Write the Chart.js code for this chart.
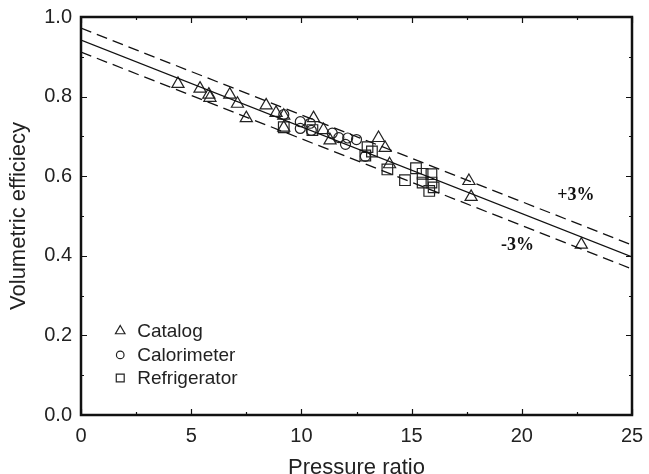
<!DOCTYPE html>
<html>
<head>
<meta charset="utf-8">
<script src="https://cdn.jsdelivr.net/npm/chart.js@4"></script>
<style>
html,body{margin:0;padding:0;background:#fff;}
#wrap{width:649px;height:474px;position:relative;}
</style>
</head>
<body>
<div id="wrap"><canvas id="c" width="649" height="474"></canvas></div>
<script>
// ---- data ----
const catalogX = [4.4, 5.4, 5.8, 5.85, 6.75, 7.1, 7.5, 8.4, 8.85, 9.2, 9.2, 10.55, 11.0, 11.3, 13.5, 13.8, 14.0, 17.6, 17.7, 22.7];
const catalogY = [0.832, 0.820, 0.805, 0.797, 0.805, 0.782, 0.746, 0.778, 0.759, 0.752, 0.722, 0.746, 0.716, 0.690, 0.696, 0.671, 0.630, 0.588, 0.548, 0.428];

const calorX = [9.2, 9.95, 9.95, 10.4, 10.45, 11.4, 11.7, 12.1, 12.5, 12.0, 12.9];
const calorY = [0.755, 0.737, 0.720, 0.733, 0.715, 0.708, 0.697, 0.696, 0.692, 0.680, 0.650];

const fridgeX = [9.2, 10.5, 13.0, 13.2, 12.9, 13.9, 14.7, 15.2, 15.5, 15.5, 15.9, 15.9, 16.0, 15.8];
const fridgeY = [0.723, 0.716, 0.673, 0.662, 0.652, 0.617, 0.590, 0.620, 0.606, 0.584, 0.605, 0.584, 0.572, 0.563];

const lineX = [0, 25];
const fitY = [0.942, 0.397];
const upperY = [0.972, 0.427];
const lowerY = [0.912, 0.367];

const xTicks = [0, 5, 10, 15, 20, 25];
const yTicks = [0.0, 0.2, 0.4, 0.6, 0.8, 1.0];
const seriesLabels = ['Catalog', 'Calorimeter', 'Refrigerator'];
const bandLabels = ['+3%', '-3%'];

const pts = (xs, ys) => xs.map((x, i) => ({x: x, y: ys[i]}));
const ink = '#222';
const sans = '"Liberation Sans", Arial, Helvetica, sans-serif';

const frameAndTicks = {
  id: 'frameAndTicks',
  afterDatasetsDraw(chart) {
    const {ctx, chartArea: a, scales: {x, y}} = chart;
    ctx.save();
    ctx.strokeStyle = '#111';
    ctx.lineWidth = 1.2;
    ctx.beginPath();
    for (let v = 0; v <= 25.001; v += 2.5) {
      const px = Math.round(x.getPixelForValue(v)) + 0.5;
      const len = (Math.abs(v % 5) < 1e-6) ? 6 : 3;
      ctx.moveTo(px, a.bottom); ctx.lineTo(px, a.bottom - len);
      ctx.moveTo(px, a.top); ctx.lineTo(px, a.top + len);
    }
    for (let i = 0; i <= 10; i++) {
      const v = i / 10;
      const py = Math.round(y.getPixelForValue(v)) + 0.5;
      const len = (i % 2 === 0) ? 6 : 3;
      ctx.moveTo(a.left, py); ctx.lineTo(a.left + len, py);
      ctx.moveTo(a.right, py); ctx.lineTo(a.right - len, py);
    }
    ctx.stroke();
    ctx.lineWidth = 2.5;
    ctx.strokeRect(a.left, a.top, a.right - a.left, a.bottom - a.top);

    // band annotations
    ctx.fillStyle = '#111';
    ctx.font = 'bold 18px "Liberation Serif", "Times New Roman", serif';
    ctx.textAlign = 'center';
    ctx.textBaseline = 'middle';
    ctx.fillText(bandLabels[0], x.getPixelForValue(22.45), y.getPixelForValue(0.553));
    ctx.fillText(bandLabels[1], x.getPixelForValue(19.8), y.getPixelForValue(0.427));

    // legend inside plot
    const styles = ['triangle', 'circle', 'rect'];
    const radii = [5.5, 3.8, 5.6];
    const ly = [0.211, 0.151, 0.093];
    ctx.font = '19px ' + sans;
    ctx.textAlign = 'left';
    for (let i = 0; i < 3; i++) {
      const px = x.getPixelForValue(1.78);
      const py = y.getPixelForValue(ly[i]);
      ctx.strokeStyle = ink;
      ctx.fillStyle = 'rgba(255,255,255,0)';
      ctx.lineWidth = 1.2;
      Chart.helpers.drawPoint(ctx, {pointStyle: styles[i], radius: radii[i], rotation: 0, borderWidth: 1.2}, px, py);
      ctx.fillStyle = '#222';
      ctx.fillText(seriesLabels[i], px + 17, py + 1);
    }
    ctx.restore();
  }
};

const markerBase = {
  showLine: false,
  backgroundColor: 'rgba(0,0,0,0)',
  borderColor: ink,
  borderWidth: 1.2,
  pointBackgroundColor: 'rgba(0,0,0,0)',
  pointBorderColor: ink,
  pointBorderWidth: 1.2
};

new Chart(document.getElementById('c'), {
  type: 'scatter',
  data: {
    datasets: [
      {label: 'fit', data: pts(lineX, fitY), showLine: true, borderColor: '#111', borderWidth: 1.3, pointRadius: 0, fill: false},
      {label: 'upper', data: pts(lineX, upperY), showLine: true, borderColor: '#111', borderWidth: 1.3, borderDash: [11, 6], pointRadius: 0, fill: false},
      {label: 'lower', data: pts(lineX, lowerY), showLine: true, borderColor: '#111', borderWidth: 1.3, borderDash: [11, 6], pointRadius: 0, fill: false},
      Object.assign({label: seriesLabels[0], data: pts(catalogX, catalogY), pointStyle: 'triangle', pointRadius: 7}, markerBase),
      Object.assign({label: seriesLabels[1], data: pts(calorX, calorY), pointStyle: 'circle', pointRadius: 5}, markerBase),
      Object.assign({label: seriesLabels[2], data: pts(fridgeX, fridgeY), pointStyle: 'rect', pointRadius: 7.5}, markerBase)
    ]
  },
  options: {
    responsive: false,
    animation: false,
    layout: {padding: {top: 17, right: 17, left: 0, bottom: 0}},
    plugins: {legend: {display: false}, tooltip: {enabled: false}},
    elements: {line: {tension: 0}},
    scales: {
      x: {
        type: 'linear', min: 0, max: 25,
        afterBuildTicks: s => { s.ticks = xTicks.map(v => ({value: v})); },
        afterFit: s => { s.height = 59; s.paddingLeft = 0; s.paddingRight = 0; },
        grid: {display: false, drawTicks: false},
        border: {display: false},
        ticks: {padding: 9, color: '#222', font: {family: sans, size: 20}, maxRotation: 0, callback: v => String(v)},
        title: {display: true, text: 'Pressure ratio', color: '#222', font: {family: sans, size: 22}, padding: {top: 0, bottom: -7}}
      },
      y: {
        type: 'linear', min: 0, max: 1,
        afterBuildTicks: s => { s.ticks = yTicks.map(v => ({value: v})); },
        afterFit: s => { s.width = 81; s.paddingTop = 0; s.paddingBottom = 0; },
        grid: {display: false, drawTicks: false},
        border: {display: false},
        ticks: {padding: 9, color: '#222', font: {family: sans, size: 20}, callback: v => Number(v).toFixed(1)},
        title: {display: true, text: 'Volumetric efficiecy', color: '#222', font: {family: sans, size: 22}, padding: {top: 6, bottom: 0}}
      }
    }
  },
  plugins: [frameAndTicks]
});
</script>
</body>
</html>
